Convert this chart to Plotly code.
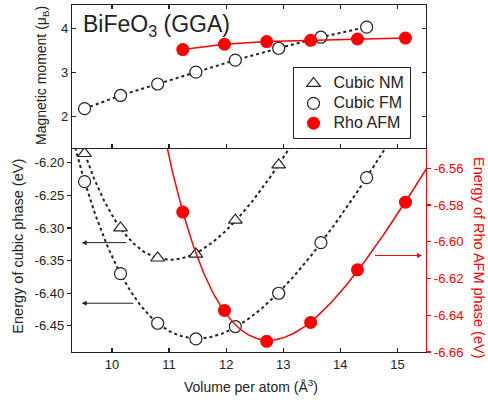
import numpy as np
import plotly.graph_objects as go

# ---------------- data ----------------
V_fm = [9.52, 10.15, 10.80, 11.47, 12.16, 12.92, 13.66, 14.46]
V_nm = [9.52, 10.15, 10.80, 11.47, 12.16, 12.92]
V_rho = [11.24, 11.97, 12.71, 13.48, 14.30, 15.14]

m_fm = [2.18, 2.48, 2.74, 3.01, 3.28, 3.55, 3.80, 4.03]
m_rho = [3.52, 3.64, 3.70, 3.73, 3.76, 3.78]

E_fm = [-6.229, -6.370, -6.446, -6.470, -6.451, -6.400, -6.3225, -6.223]
E_nm = [-6.186, -6.300, -6.346, -6.340, -6.288, -6.2035]
E_rho = [-6.5839, -6.6374, -6.6542, -6.6439, -6.6153, -6.5785]

series_names = ["Cubic NM", "Cubic FM", "Rho AFM"]

x_ticks = [10, 11, 12, 13, 14, 15]
m_ticks = [2, 3, 4]
e_ticks = [-6.45, -6.40, -6.35, -6.30, -6.25, -6.20]
rho_ticks = [-6.66, -6.64, -6.62, -6.60, -6.58, -6.56]

# ---------------- E(V) fits (Birch-Murnaghan-type polynomial in V^-2/3) ----------------
def eos_fit(V, E, vgrid):
    V = np.asarray(V, float)
    c = np.polyfit(V ** (-2.0 / 3.0), np.asarray(E, float), 3)
    return np.polyval(c, vgrid ** (-2.0 / 3.0))

vgrid = np.linspace(9.0, 15.6, 400)
fit_nm = eos_fit(V_nm, E_nm, vgrid)
fit_fm = eos_fit(V_fm, E_fm, vgrid)
fit_rho = eos_fit(V_rho, E_rho, vgrid)

BLACK = "#222222"
RED = "#ff0000"
FONT = "Liberation Sans, Arial, sans-serif"


def leg(name):
    return f'<span style="font-size:16px">{name}</span>'


fig = go.Figure()

# fitted curves
fig.add_trace(go.Scatter(x=vgrid, y=fit_nm, mode="lines", xaxis="x", yaxis="y",
                         line=dict(color=BLACK, width=2, dash="dot"), showlegend=False, hoverinfo="skip"))
fig.add_trace(go.Scatter(x=vgrid, y=fit_fm, mode="lines", xaxis="x", yaxis="y",
                         line=dict(color=BLACK, width=2, dash="dot"), showlegend=False, hoverinfo="skip"))

# bottom panel markers (also legend entries)
fig.add_trace(go.Scatter(x=V_nm, y=E_nm, mode="markers", name=leg(series_names[0]), xaxis="x", yaxis="y",
                         marker=dict(symbol="triangle-up", size=12, color="white",
                                     line=dict(color=BLACK, width=1.2))))
fig.add_trace(go.Scatter(x=V_fm, y=E_fm, mode="markers", name=leg(series_names[1]), xaxis="x", yaxis="y",
                         marker=dict(symbol="circle", size=12, color="white",
                                     line=dict(color=BLACK, width=1.2))))
fig.add_trace(go.Scatter(x=vgrid, y=fit_rho, mode="lines", xaxis="x", yaxis="y2",
                         line=dict(color=RED, width=1.5), showlegend=False, hoverinfo="skip"))
fig.add_trace(go.Scatter(x=V_rho, y=E_rho, mode="markers", name=leg(series_names[2]), xaxis="x", yaxis="y2",
                         marker=dict(symbol="circle", size=13, color=RED,
                                     line=dict(color=RED, width=0))))

# top panel: magnetic moments
fig.add_trace(go.Scatter(x=V_fm, y=m_fm, mode="lines+markers", xaxis="x2", yaxis="y3",
                         line=dict(color=BLACK, width=2, dash="dot"),
                         marker=dict(symbol="circle", size=12, color="white",
                                     line=dict(color=BLACK, width=1.2)),
                         showlegend=False))
fig.add_trace(go.Scatter(x=V_rho, y=m_rho, mode="lines+markers", xaxis="x2", yaxis="y3",
                         line=dict(color=RED, width=1.5),
                         marker=dict(symbol="circle", size=13, color=RED, line=dict(width=0)),
                         showlegend=False))

split = 0.588
axis_common = dict(showline=True, linecolor=BLACK, linewidth=1.2, showgrid=False, zeroline=False,
                   ticklen=4, tickwidth=1.2, tickcolor=BLACK,
                   tickfont=dict(family=FONT, size=13, color=BLACK))

fig.update_layout(
    width=488, height=403,
    margin=dict(l=72, r=62, t=5, b=51),
    paper_bgcolor="white", plot_bgcolor="white",
    font=dict(family=FONT, color=BLACK),
    xaxis=dict(axis_common, domain=[0, 1], anchor="y", range=[9.3, 15.5],
               tickvals=x_ticks, ticks="inside"),
    yaxis=dict(axis_common, domain=[0, split], anchor="x", range=[-6.49, -6.1775],
               tickvals=e_ticks, ticktext=[f"{v:.2f}" for v in e_ticks], ticks="outside"),
    yaxis2=dict(axis_common, overlaying="y", side="right", anchor="x", range=[-6.66, -6.549],
                tickvals=rho_ticks, ticktext=[f"{v:.2f}" for v in rho_ticks], ticks="outside",
                linecolor=RED, tickcolor=RED, tickfont=dict(family=FONT, size=13, color=RED)),
    xaxis2=dict(axis_common, domain=[0, 1], anchor="y3", range=[9.3, 15.5], matches="x",
                tickvals=x_ticks, ticks="inside", showticklabels=False, mirror="ticks"),
    yaxis3=dict(axis_common, domain=[split, 1], anchor="x2", range=[1.29, 4.53],
                tickvals=m_ticks, ticks="inside", mirror="ticks"),
    legend=dict(x=0.623, y=0.82, xanchor="left", yanchor="top",
                bordercolor=BLACK, borderwidth=1, bgcolor="white",
                font=dict(family=FONT, size=13, color=BLACK), tracegroupgap=0),
)

ann = []
# panel title
ann.append(dict(text="BiFeO<sub>3</sub> (GGA)", xref="paper", yref="paper", x=0.026, y=0.94,
                xanchor="left", yanchor="middle", showarrow=False,
                font=dict(family=FONT, size=23, color=BLACK)))
# axis titles
ann.append(dict(text="Magnetic moment (μ<sub>B</sub>)", xref="paper", yref="paper", x=-0.085, y=0.798,
                textangle=-90, showarrow=False, xanchor="center", yanchor="middle",
                font=dict(family=FONT, size=14, color=BLACK)))
ann.append(dict(text="Energy of cubic phase (eV)", xref="paper", yref="paper", x=-0.155, y=0.304,
                textangle=-90, showarrow=False, xanchor="center", yanchor="middle",
                font=dict(family=FONT, size=14.5, color=BLACK)))
ann.append(dict(text="Energy of Rho AFM phase (eV)", xref="paper", yref="paper", x=1.1497, y=0.271,
                textangle=90, showarrow=False, xanchor="center", yanchor="middle",
                font=dict(family=FONT, size=14.5, color=RED)))
ann.append(dict(text="Volume per atom (Å<sup>3</sup>)", xref="paper", yref="paper", x=0.506, y=-0.098,
                showarrow=False, xanchor="center", yanchor="middle",
                font=dict(family=FONT, size=14, color=BLACK)))
# arrows pointing to the relevant axes
ann.append(dict(x=9.47, y=-6.3225, ax=10.28, ay=-6.3225, xref="x", yref="y", axref="x", ayref="y",
                text="", showarrow=True, arrowhead=2, arrowsize=1, arrowwidth=1, arrowcolor=BLACK))
ann.append(dict(x=9.47, y=-6.4153, ax=10.40, ay=-6.4153, xref="x", yref="y", axref="x", ayref="y",
                text="", showarrow=True, arrowhead=2, arrowsize=1, arrowwidth=1, arrowcolor=BLACK))
ann.append(dict(x=15.43, y=-6.6075, ax=14.58, ay=-6.6075, xref="x", yref="y2", axref="x", ayref="y2",
                text="", showarrow=True, arrowhead=2, arrowsize=1, arrowwidth=1, arrowcolor=RED))
fig.update_layout(annotations=ann)

fig.write_html("out.html", config={"displayModeBar": False, "staticPlot": True},
               post_script="document.body.style.margin='0px';")
